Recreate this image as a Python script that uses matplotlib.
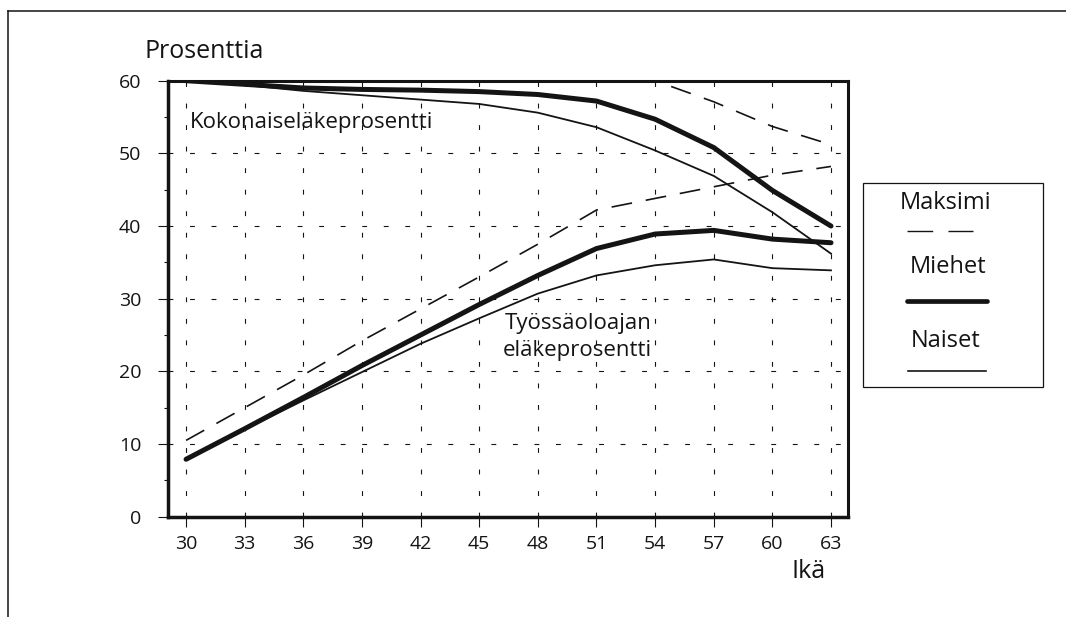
import numpy as np
import matplotlib
matplotlib.use("Agg")
import matplotlib.pyplot as plt
from matplotlib.lines import Line2D
from matplotlib.patches import Rectangle

plt.rcParams['font.family'] = ['Open Sans', 'DejaVu Sans']
plt.rcParams['lines.scale_dashes'] = False

# ikä (vuotta)
ika = [30, 33, 36, 39, 42, 45, 48, 51, 54, 57, 60, 63]

# kokonaiseläkeprosentti
max_koko = [60, 60, 60, 60, 60, 60, 60, 60, 60, 57.1, 53.7, 51.2]
miehet_koko = [60, 59.5, 59.0, 58.8, 58.7, 58.5, 58.1, 57.2, 54.7, 50.8, 44.9, 40.0]
naiset_koko = [60, 59.4, 58.6, 58.0, 57.4, 56.8, 55.6, 53.6, 50.4, 46.9, 41.9, 36.2]

# työssäoloajan eläkeprosentti
max_tyo = [10.5, 15.0, 19.5, 24.2, 28.6, 33.0, 37.5, 42.2, 43.8, 45.4, 47.0, 48.2]
miehet_tyo = [7.9, 12.1, 16.4, 20.8, 25.0, 29.2, 33.2, 36.9, 38.9, 39.4, 38.2, 37.7]
naiset_tyo = [7.9, 12.0, 16.0, 19.9, 23.8, 27.3, 30.7, 33.2, 34.6, 35.4, 34.2, 33.9]

yticks = [0, 10, 20, 30, 40, 50, 60]

ink = '#141414'
dash = (0, (15, 10))

fig = plt.figure(figsize=(10.66, 6.17), dpi=100)
ax = fig.add_axes([0.1573, 0.1626, 0.6382, 0.7066])

ax.plot(ika, max_koko, color=ink, lw=1.2, ls=dash)
ax.plot(ika, max_tyo, color=ink, lw=1.2, ls=dash)
ax.plot(ika, naiset_koko, color=ink, lw=1.3)
ax.plot(ika, naiset_tyo, color=ink, lw=1.3)
ax.plot(ika, miehet_koko, color=ink, lw=3.6, solid_capstyle='round')
ax.plot(ika, miehet_tyo, color=ink, lw=3.6, solid_capstyle='round')

ax.set_xlim(29.06, 63.87)
ax.set_ylim(0, 60)
ax.set_xticks(ika)
ax.set_yticks(yticks)
ax.set_yticks(np.arange(5, 60, 10), minor=True)
ax.tick_params(axis='both', which='major', direction='out', length=7, width=0.8,
               color=ink, labelsize=14, labelcolor=ink)
ax.tick_params(axis='x', pad=6)
ax.tick_params(axis='y', pad=12)
ax.tick_params(axis='y', which='minor', direction='out', length=3, width=0.8, color=ink)

for s in ax.spines.values():
    s.set_linewidth(2.5)
    s.set_color(ink)
ax.spines['top'].set_linewidth(2.2)
ax.spines['right'].set_linewidth(2.2)

ax.grid(True, axis='x', color=ink, lw=0.8, ls=(0, (3.5, 12)))
ax.grid(True, axis='y', color=ink, lw=0.8, ls=(0, (3.5, 12)))
ax.set_axisbelow(True)

ax.text(30.2, 54.3, 'Kokonaiseläkeprosentti', fontsize=16, color=ink, va='center', ha='left')
ax.text(46.3, 26.6, 'Työssäoloajan', fontsize=16, color=ink, va='center', ha='left')
ax.text(46.2, 22.9, 'eläkeprosentti', fontsize=16, color=ink, va='center', ha='left')

fig.text(204 / 1066, 1 - 52 / 617, 'Prosenttia', fontsize=18, color=ink, ha='center', va='center')
fig.text(809 / 1066, 1 - 572 / 617, 'Ikä', fontsize=18, color=ink, ha='center', va='center')

# legend box drawn by hand, as in the original
W, H = 1066, 617
def fx(px):
    return px / W
def fy(py):
    return 1 - py / H

fig.patches.append(Rectangle((fx(863), fy(387)), fx(1043) - fx(863), fy(183) - fy(387),
                             transform=fig.transFigure, fill=False, ec=ink, lw=0.9))
fig.text(fx(946), fy(203), 'Maksimi', fontsize=17, color=ink, ha='center', va='center')
fig.lines.append(Line2D([fx(907), fx(973)], [fy(231), fy(231)], transform=fig.transFigure,
                        color=ink, lw=1.0, ls=(0, (18.5, 11))))
fig.text(fx(948), fy(267), 'Miehet', fontsize=17, color=ink, ha='center', va='center')
fig.lines.append(Line2D([fx(907), fx(987)], [fy(301), fy(301)], transform=fig.transFigure,
                        color=ink, lw=3.4, solid_capstyle='round'))
fig.text(fx(946), fy(341), 'Naiset', fontsize=17, color=ink, ha='center', va='center')
fig.lines.append(Line2D([fx(908), fx(986)], [fy(371), fy(371)], transform=fig.transFigure,
                        color=ink, lw=1.2))

# outer frame (top and left edges)
fig.lines.append(Line2D([fx(8), fx(1066)], [fy(10.5), fy(10.5)], transform=fig.transFigure,
                        color=ink, lw=1.1))
fig.lines.append(Line2D([fx(8), fx(8)], [fy(10.5), fy(617)], transform=fig.transFigure,
                        color=ink, lw=1.1))

fig.savefig('out.png', dpi=100)
